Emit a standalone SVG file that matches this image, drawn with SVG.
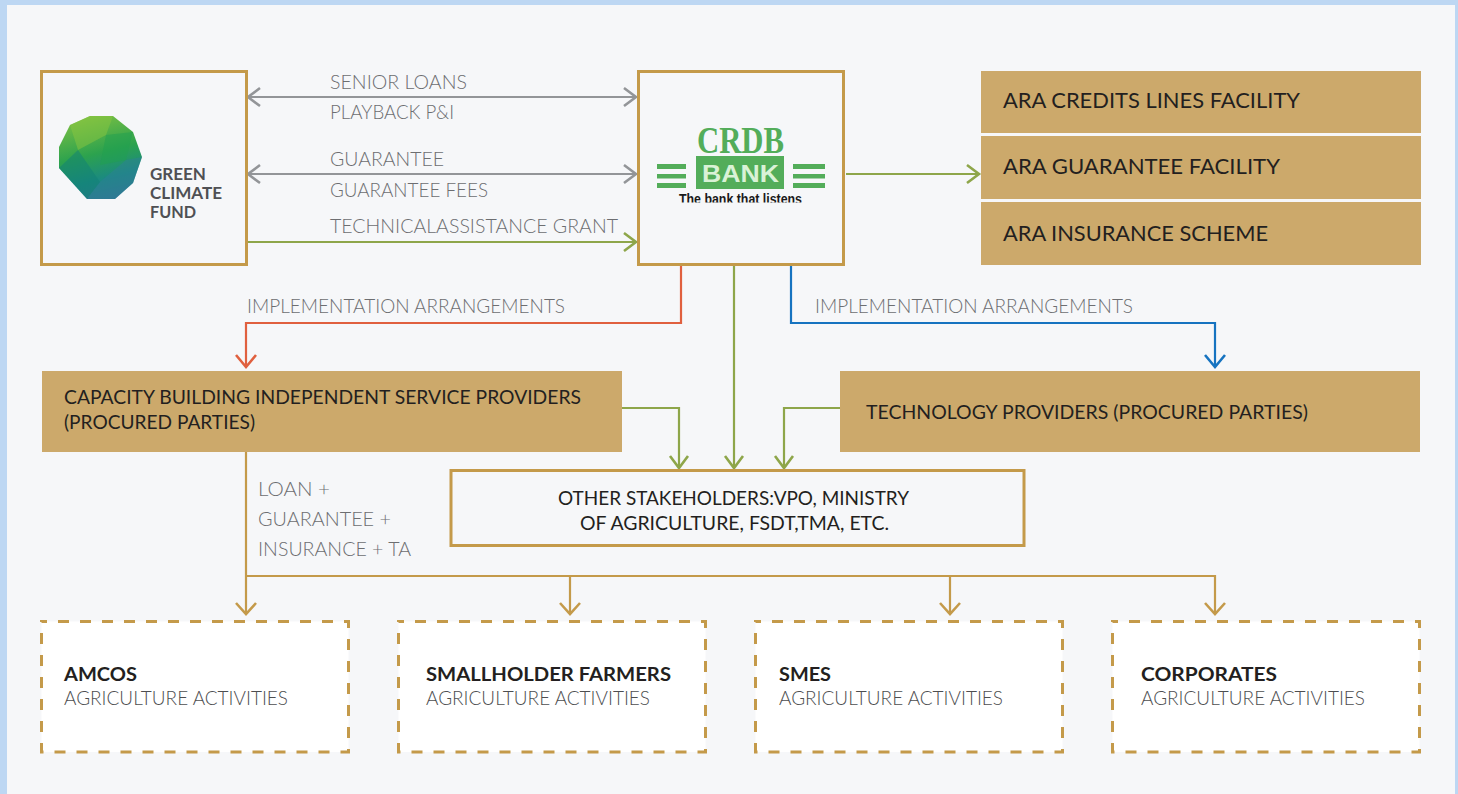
<svg xmlns="http://www.w3.org/2000/svg" width="1458" height="794" viewBox="0 0 1458 794">
<style>
text{font-family:"Lato","Noto Sans","Liberation Sans",sans-serif}
.lb{font-size:19.5px;fill:#6d6e71;font-weight:300}
.hd{font-size:21.5px;fill:#231f20;font-weight:400}
.md{font-size:19.5px;fill:#231f20;font-weight:400}
.bd{font-size:19.5px;fill:#231f20;font-weight:700}
.sub{font-size:19.5px;fill:#4d4e50;font-weight:300}
.gc{font-size:17.5px;fill:#4f5054;font-weight:700}
.box{fill:#f6f7f9;stroke:#c49a4a;stroke-width:3}
.tan{fill:#cca96b}
.dash{fill:#fff;stroke:#c49a4a;stroke-width:3;stroke-dasharray:11 11;stroke-dashoffset:5.5}
.c{fill:none;stroke-width:2.2}
.ah{fill:none;stroke-width:2.6}
.gr{stroke:#939598}.gn{stroke:#8ea64a}.rd{stroke:#e0603f}.bl{stroke:#1673c0}.tn{stroke:#c49a4a}
.st{fill:#53ad5a}
</style>
<defs>
<linearGradient id="globe" x1="0.35" y1="0" x2="0.6" y2="1">
<stop offset="0" stop-color="#79bf43"/><stop offset="0.45" stop-color="#2ca24e"/><stop offset="0.75" stop-color="#1b8a80"/><stop offset="1" stop-color="#2f7690"/>
</linearGradient>
<clipPath id="tag"><rect x="670" y="190" width="140" height="12.500"/></clipPath>
</defs>
<rect width="1458" height="794" fill="#bdd7f3"/>
<rect x="7" y="5" width="1448" height="789" fill="#f6f7f9"/>

<g id="connectors">
<g class="c gr"><path d="M248 97H636"/><path d="M248 174H636"/></g>
<g class="ah gr"><path d="M260 88L248 97L260 106"/><path d="M624 88L636 97L624 106"/><path d="M260 165L248 174L260 183"/><path d="M624 165L636 174L624 183"/></g>
<g class="c gn"><path d="M247 242H636"/><path d="M846 174H979"/><path d="M734 265V468"/><path d="M622 408H679V467"/><path d="M840 408H784V467"/></g>
<g class="ah gn"><path d="M624 233L636 242L624 251"/><path d="M967 165L979 174L967 183"/><path d="M725 456L734 468L743 456"/><path d="M670 456L679 468L688 456"/><path d="M775 456L784 468L793 456"/></g>
<path class="c rd" d="M681 265V323H246V366"/><path class="ah rd" d="M236 355L246 367L256 355"/>
<path class="c bl" d="M791 265V323H1215V366"/><path class="ah bl" d="M1205 355L1215 367L1225 355"/>
<g class="c tn"><path d="M246 452V614"/><path d="M246 576H1215V614"/><path d="M570 576V614"/><path d="M950 576V614"/></g>
<g class="ah tn"><path d="M236 603L246 614L256 603"/><path d="M560 603L570 614L580 603"/><path d="M940 603L950 614L960 603"/><path d="M1205 603L1215 614L1225 603"/></g>
</g>

<g id="connector-labels">
<text class="lb" x="330" y="89" textLength="137" lengthAdjust="spacingAndGlyphs">SENIOR LOANS</text>
<text class="lb" x="330" y="119" textLength="124" lengthAdjust="spacingAndGlyphs">PLAYBACK P&amp;I</text>
<text class="lb" x="330" y="166" textLength="114" lengthAdjust="spacingAndGlyphs">GUARANTEE</text>
<text class="lb" x="330" y="197" textLength="158" lengthAdjust="spacingAndGlyphs">GUARANTEE FEES</text>
<text class="lb" x="330" y="233" textLength="288" lengthAdjust="spacingAndGlyphs">TECHNICALASSISTANCE GRANT</text>
<text class="lb" x="247" y="313" textLength="318" lengthAdjust="spacingAndGlyphs">IMPLEMENTATION ARRANGEMENTS</text>
<text class="lb" x="815" y="313" textLength="318" lengthAdjust="spacingAndGlyphs">IMPLEMENTATION ARRANGEMENTS</text>
<text class="lb" x="258" y="496" textLength="72" lengthAdjust="spacingAndGlyphs">LOAN +</text>
<text class="lb" x="258" y="526" textLength="133" lengthAdjust="spacingAndGlyphs">GUARANTEE +</text>
<text class="lb" x="258" y="556" textLength="153" lengthAdjust="spacingAndGlyphs">INSURANCE + TA</text>
</g>

<g id="green-climate-fund">
<rect class="box" x="41.500" y="71.500" width="205" height="193"/>
<polygon points="90,116 113,116 133,132 142,157 133,183 115,199 87,199 59,168 59,147 70,125" fill="url(#globe)"/>
<polygon points="90,116 113,116 106,135 78,150 70,125" fill="#8ac640" opacity=".5"/>
<polygon points="106,135 133,132 126,160 100,165" fill="#1fa050" opacity=".5"/>
<polygon points="59,168 78,150 100,182 87,199" fill="#0f7f76" opacity=".5"/>
<polygon points="100,182 126,160 142,157 133,183 115,199 87,199" fill="#2f7f9a" opacity=".45"/>
<text class="gc" x="150" y="180" textLength="56" lengthAdjust="spacingAndGlyphs">GREEN</text>
<text class="gc" x="150" y="199" textLength="72" lengthAdjust="spacingAndGlyphs">CLIMATE</text>
<text class="gc" x="150" y="218" textLength="46" lengthAdjust="spacingAndGlyphs">FUND</text>
</g>

<g id="crdb-bank">
<rect class="box" x="638.500" y="71.500" width="205" height="193"/>
<text x="697" y="153" font-size="37" font-weight="700" fill="#53ad5a" textLength="87" lengthAdjust="spacingAndGlyphs" style="font-family:'Liberation Serif',serif">CRDB</text>
<rect class="st" x="696" y="156" width="88" height="33"/>
<text x="702" y="182" font-size="23" font-weight="700" fill="#d9f2d6" textLength="77" lengthAdjust="spacingAndGlyphs" style="font-family:'Liberation Sans',sans-serif">BANK</text>
<rect class="st" x="657" y="164" width="29" height="5"/><rect class="st" x="657" y="174" width="29" height="4.500"/><rect class="st" x="657" y="183" width="29" height="5"/>
<rect class="st" x="793" y="164" width="32" height="5"/><rect class="st" x="793" y="174" width="32" height="4.500"/><rect class="st" x="793" y="183" width="32" height="5"/>
<g clip-path="url(#tag)"><text x="679" y="204" font-size="14" font-weight="700" fill="#1a1a1a" textLength="123" lengthAdjust="spacingAndGlyphs" style="font-family:'Liberation Sans',sans-serif">The bank that listens</text></g>
</g>

<g id="ara-credits"><rect class="tan" x="981" y="71" width="440" height="62"/><text class="hd" x="1003" y="108" textLength="297" lengthAdjust="spacingAndGlyphs">ARA CREDITS LINES FACILITY</text></g>
<g id="ara-guarantee"><rect class="tan" x="981" y="136" width="440" height="63"/><text class="hd" x="1003" y="174" textLength="277" lengthAdjust="spacingAndGlyphs">ARA GUARANTEE FACILITY</text></g>
<g id="ara-insurance"><rect class="tan" x="981" y="202" width="440" height="63"/><text class="hd" x="1003" y="241" textLength="265" lengthAdjust="spacingAndGlyphs">ARA INSURANCE SCHEME</text></g>

<g id="capacity-building"><rect class="tan" x="42" y="371" width="580" height="81"/>
<text class="md" x="64" y="404" textLength="517" lengthAdjust="spacingAndGlyphs">CAPACITY BUILDING INDEPENDENT SERVICE PROVIDERS</text>
<text class="md" x="64" y="429" textLength="191" lengthAdjust="spacingAndGlyphs">(PROCURED PARTIES)</text></g>

<g id="technology-providers"><rect class="tan" x="840" y="371" width="580" height="81"/>
<text class="md" x="866" y="419" textLength="442" lengthAdjust="spacingAndGlyphs">TECHNOLOGY PROVIDERS (PROCURED PARTIES)</text></g>

<g id="other-stakeholders"><rect class="box" x="451" y="470.500" width="573" height="75"/>
<text class="md" x="558" y="505" textLength="351" lengthAdjust="spacingAndGlyphs">OTHER STAKEHOLDERS:VPO, MINISTRY</text>
<text class="md" x="580" y="530" textLength="309" lengthAdjust="spacingAndGlyphs">OF AGRICULTURE, FSDT,TMA, ETC.</text></g>

<g id="amcos"><rect class="dash" x="41.500" y="621.500" width="307" height="130.500"/>
<text class="bd" x="64" y="681" textLength="73" lengthAdjust="spacingAndGlyphs">AMCOS</text>
<text class="sub" x="64" y="705" textLength="224" lengthAdjust="spacingAndGlyphs">AGRICULTURE ACTIVITIES</text></g>
<g id="smallholder"><rect class="dash" x="398.500" y="621.500" width="307" height="130.500"/>
<text class="bd" x="426" y="681" textLength="245" lengthAdjust="spacingAndGlyphs">SMALLHOLDER FARMERS</text>
<text class="sub" x="426" y="705" textLength="224" lengthAdjust="spacingAndGlyphs">AGRICULTURE ACTIVITIES</text></g>
<g id="smes"><rect class="dash" x="755.500" y="621.500" width="307" height="130.500"/>
<text class="bd" x="779" y="681" textLength="52" lengthAdjust="spacingAndGlyphs">SMES</text>
<text class="sub" x="779" y="705" textLength="224" lengthAdjust="spacingAndGlyphs">AGRICULTURE ACTIVITIES</text></g>
<g id="corporates"><rect class="dash" x="1112.500" y="621.500" width="307" height="130.500"/>
<text class="bd" x="1141" y="681" textLength="136" lengthAdjust="spacingAndGlyphs">CORPORATES</text>
<text class="sub" x="1141" y="705" textLength="224" lengthAdjust="spacingAndGlyphs">AGRICULTURE ACTIVITIES</text></g>
</svg>
